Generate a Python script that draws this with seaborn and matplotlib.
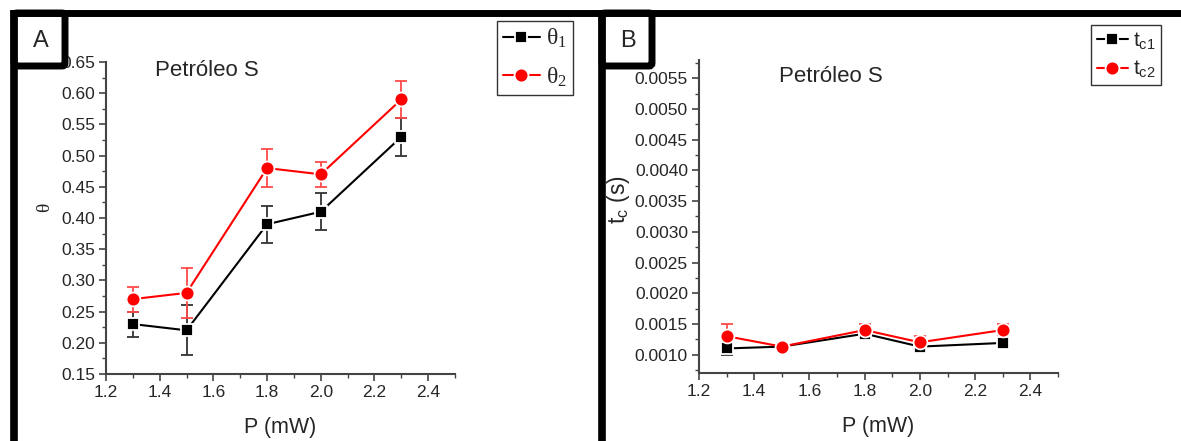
import matplotlib
matplotlib.use("Agg")
import matplotlib.pyplot as plt
from matplotlib.patches import FancyBboxPatch
from matplotlib.lines import Line2D
from matplotlib.ticker import MultipleLocator, FormatStrFormatter
import seaborn as sns

# Laser power (mW)
P = [1.3, 1.5, 1.8, 2.0, 2.3]

# Panel A: theta values with uncertainties
theta1 = [0.23, 0.22, 0.39, 0.41, 0.53]
theta1_err = [0.02, 0.04, 0.03, 0.03, 0.03]
theta2 = [0.27, 0.28, 0.48, 0.47, 0.59]
theta2_err = [0.02, 0.04, 0.03, 0.02, 0.03]

# Panel B: characteristic times (s) with uncertainties
tc1 = [0.00110, 0.00113, 0.00134, 0.00113, 0.00119]
tc1_err = [0.00010, 0.00005, 0.00005, 0.00005, 0.00003]
tc2 = [0.00130, 0.00113, 0.00140, 0.00120, 0.00140]
tc2_err = [0.00020, 0.00007, 0.00010, 0.00010, 0.00010]

sample = "Petróleo S"

sns.set_theme(style="ticks")
plt.rcParams["font.family"] = ["Liberation Sans", "DejaVu Sans"]
plt.rcParams["mathtext.default"] = "regular"

SERIF = ["Liberation Serif", "DejaVu Serif"]

W, H = 1181, 441
fig = plt.figure(figsize=(W / 100, H / 100), dpi=100)
fig.patch.set_facecolor("white")


def px_axes(x0, x1, ytop, ybot):
    return fig.add_axes([x0 / W, 1 - ybot / H, (x1 - x0) / W, (ybot - ytop) / H])


axA = px_axes(106, 455, 62, 374)
axB = px_axes(699, 1058, 60, 373)

RED = "#ff0000"
RED_ERR = "#ff4a4a"
BLK = "#000000"
BLK_ERR = "#333333"


def draw_series(ax, y, yerr, marker, color, ecolor, ms, label):
    ax.errorbar(P, y, yerr=yerr, fmt="none", ecolor=ecolor, elinewidth=1.3,
                capsize=4, capthick=1.3, zorder=2)
    sns.lineplot(x=P, y=y, ax=ax, color=color, marker=marker, markersize=ms,
                 markeredgecolor="white", markeredgewidth=1.3, linewidth=1.5,
                 label=label, zorder=3, legend=False)


draw_series(axA, theta1, theta1_err, "s", BLK, BLK_ERR, 9, r"$\theta_1$")
draw_series(axA, theta2, theta2_err, "o", RED, RED_ERR, 10, r"$\theta_2$")
draw_series(axB, tc1, tc1_err, "s", BLK, BLK_ERR, 9, r"$t_{c1}$")
draw_series(axB, tc2, tc2_err, "o", RED, RED_ERR, 10, r"$t_{c2}$")

for ax in (axA, axB):
    ax.set_xlim(1.2, 2.5)
    ax.xaxis.set_major_locator(MultipleLocator(0.2))
    ax.xaxis.set_minor_locator(MultipleLocator(0.1))
    ax.xaxis.set_major_formatter(FormatStrFormatter("%.1f"))
    for side in ("top", "right"):
        ax.spines[side].set_visible(False)
    for side in ("left", "bottom"):
        ax.spines[side].set_color("#444444")
        ax.spines[side].set_linewidth(1.5)
    ax.tick_params(which="major", direction="out", length=5, width=1.2,
                   color="#444444", labelsize=12.5, pad=3)
    ax.tick_params(which="minor", direction="out", length=3, width=1.0,
                   color="#444444")
    ax.set_facecolor("white")
    ax.set_xlabel("P (mW)", fontsize=15.5, labelpad=12)

axA.set_ylim(0.15, 0.65)
axA.yaxis.set_major_locator(MultipleLocator(0.05))
axA.yaxis.set_minor_locator(MultipleLocator(0.025))
axA.yaxis.set_major_formatter(FormatStrFormatter("%.2f"))
axA.set_ylabel("θ", fontsize=14, family=SERIF, va="center")
axA.yaxis.set_label_coords((45 - 106) / 349, 0.535)

axB.set_ylim(0.0007, 0.0058)
axB.yaxis.set_major_locator(MultipleLocator(0.0005))
axB.yaxis.set_minor_locator(MultipleLocator(0.00025))
axB.yaxis.set_major_formatter(FormatStrFormatter("%.4f"))
axB.set_ylabel(r"$t_c$ (s)", fontsize=16.5, va="center")
axB.yaxis.set_label_coords((619 - 699) / 359, 0.555)

# Sample name inside each panel
fig.text(155 / W, 1 - 70 / H, sample, fontsize=16, va="center", ha="left")
fig.text(779 / W, 1 - 77 / H, sample, fontsize=16, va="center", ha="left")

# Legends
for ax, anchor, fam, fs, hl, ls in ((axA, (573, 21), SERIF, 17, 1.6, 0.65),
                                    (axB, (1161, 25), ["Liberation Sans"], 15, 1.5, 0.35)):
    handles, labels = ax.get_legend_handles_labels()
    leg = fig.legend(handles, labels, loc="upper right",
                     bbox_to_anchor=(anchor[0] / W, 1 - anchor[1] / H),
                     prop={"family": fam, "size": fs}, frameon=True,
                     fancybox=False, edgecolor="#333333", framealpha=1,
                     numpoints=1, handlelength=hl, handletextpad=0.25,
                     borderpad=0.25, labelspacing=ls, borderaxespad=0)
    leg.get_frame().set_linewidth(1.0)

# Framing lines and panel letter boxes
over = fig.add_axes([0, 0, 1, 1], zorder=10)
over.set_xlim(0, W)
over.set_ylim(H, 0)
over.axis("off")
over.patch.set_alpha(0)
lw = 5.0
over.add_line(Line2D([10, W], [13, 13], color="black", linewidth=lw,
                     solid_capstyle="butt"))
for xv in (14, 602):
    over.add_line(Line2D([xv, xv], [10, H], color="black", linewidth=5.5,
                         solid_capstyle="butt"))
for (x0, x1, letter) in ((14, 65, "A"), (602, 652, "B")):
    box = FancyBboxPatch((x0, 13), x1 - x0, 53,
                         boxstyle="round,pad=0,rounding_size=3",
                         facecolor="white", edgecolor="black", linewidth=lw)
    over.add_patch(box)
    over.text((x0 + x1) / 2 + 1, 41, letter, fontsize=17, ha="center",
              va="center")

fig.savefig("out.png", dpi=100, facecolor="white")
